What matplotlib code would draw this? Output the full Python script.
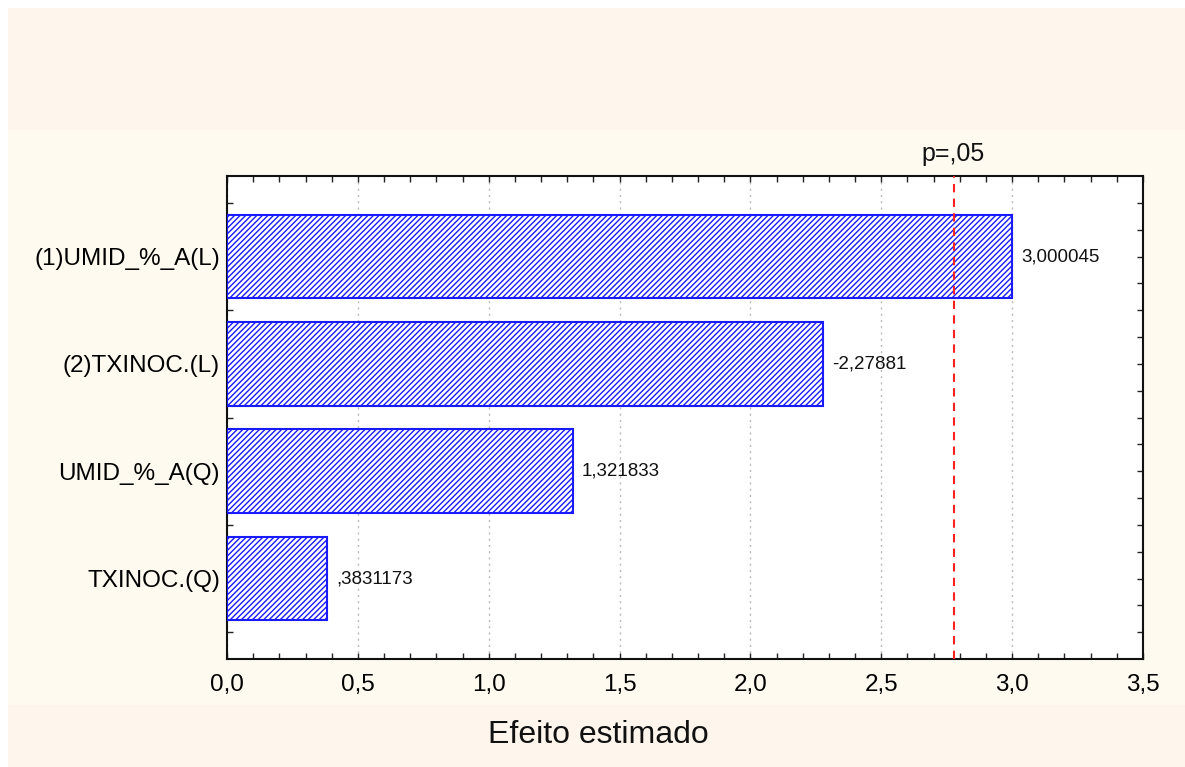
import matplotlib
matplotlib.use("Agg")
import matplotlib.pyplot as plt
from matplotlib.patches import Rectangle
from matplotlib.ticker import MultipleLocator, FixedLocator, NullFormatter

plt.rcParams['font.family'] = ['Liberation Sans', 'DejaVu Sans']
plt.rcParams['hatch.color'] = '#1a1aff'
plt.rcParams['hatch.linewidth'] = 1.0

# Pareto chart of standardized effects
effects = ['(1)UMID_%_A(L)', '(2)TXINOC.(L)', 'UMID_%_A(Q)', 'TXINOC.(Q)']
estimates = [3.000045, -2.27881, 1.321833, 0.3831173]
value_labels = ['3,000045', '-2,27881', '1,321833', ',3831173']
p_critical = 2.776
p_label = 'p=,05'
x_ticks = [0.0, 0.5, 1.0, 1.5, 2.0, 2.5, 3.0, 3.5]
x_tick_labels = ['0,0', '0,5', '1,0', '1,5', '2,0', '2,5', '3,0', '3,5']
x_label = 'Efeito estimado'

W, H = 1185, 767
fig = plt.figure(figsize=(W / 100, H / 100), dpi=100)
fig.patch.set_facecolor('white')

# Panel background bands
band_dark = '#fef6ec'
band_light = '#fffaf0'
def band(y0, y1, color):
    fig.patches.append(Rectangle((8 / W, 1 - y1 / H), (W - 8) / W, (y1 - y0) / H,
                                 transform=fig.transFigure, facecolor=color,
                                 edgecolor='none', zorder=-10))
band(8, 130, band_dark)
band(130, 705, band_light)
band(705, H, band_dark)

left, right, top, bottom = 227, 1143, 176, 659
ax = fig.add_axes([left / W, 1 - bottom / H, (right - left) / W, (bottom - top) / H])
ax.set_facecolor('white')

positions = list(range(len(effects)))
magnitudes = [abs(v) for v in estimates]
ax.barh(positions, magnitudes, height=0.78, color='white', edgecolor='#1a1aff',
        linewidth=1.5, hatch='//////', zorder=3)

for pos, mag, lab in zip(positions, magnitudes, value_labels):
    ax.text(mag + 0.035, pos, lab, va='center', ha='left', fontsize=13.5, color='#111111')

ax.axvline(p_critical, color='#ff2020', linestyle=(0, (4, 3)), linewidth=1.5, zorder=4)
ax.text(p_critical, 1.02, p_label, transform=ax.get_xaxis_transform(),
        ha='center', va='bottom', fontsize=18, color='#111111')

ax.set_xlim(0, 3.5)
ax.set_ylim(3.75, -0.75)
ax.set_xticks(x_ticks)
ax.set_xticklabels(x_tick_labels, fontsize=17.5)
ax.xaxis.set_minor_locator(MultipleLocator(0.1))
ax.set_yticks(positions)
ax.set_yticklabels(effects, fontsize=17.5)
ax.yaxis.set_minor_locator(FixedLocator([p + d for p in [-0.75] + positions for d in (0.25, 0.5, 0.75)
                                         if -0.75 < p + d < 3.75 and (p + d) not in positions]))
ax.yaxis.set_minor_formatter(NullFormatter())

ax.tick_params(axis='both', which='both', direction='in', top=True, right=True,
               color='#222222', width=1.0, length=4)
ax.tick_params(axis='x', which='major', pad=11)
ax.tick_params(axis='y', which='major', pad=5)
ax.xaxis.grid(True, which='major', linestyle=(0, (1.5, 3)), color='#bbbbbb', linewidth=1.0, zorder=0)
ax.set_axisbelow(True)
for s in ax.spines.values():
    s.set_linewidth(1.5)
    s.set_color('#111111')

fig.text(598 / W, 1 - 735 / H, x_label, ha='center', va='center',
         fontsize=23, color='#111111')

fig.savefig('out.png', dpi=100, facecolor=fig.get_facecolor())
